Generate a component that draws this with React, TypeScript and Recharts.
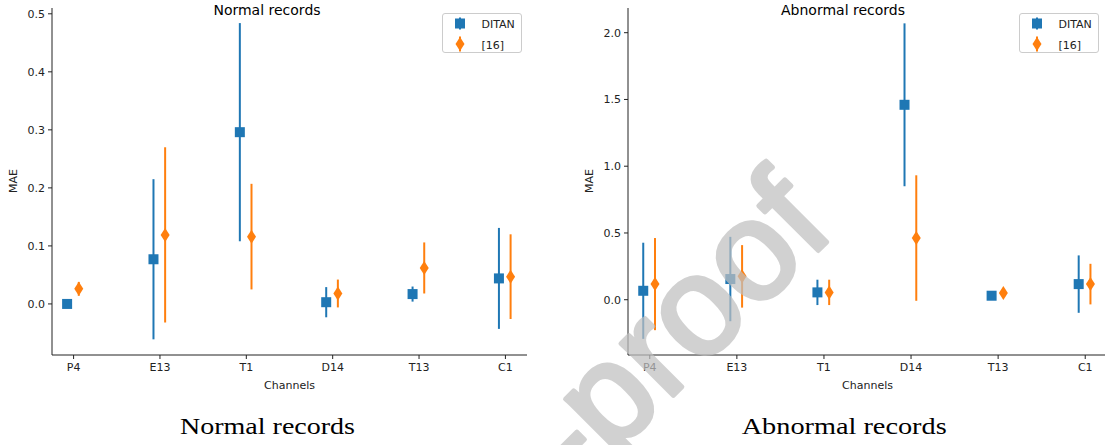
import React from 'react';
import { ScatterChart, Scatter, XAxis, YAxis, ErrorBar } from 'recharts';

const channels = ['P4', 'E13', 'T1', 'D14', 'T13', 'C1'];
const seriesNames = ['DITAN', '[16]'];
const seriesColors = ['#1f77b4', '#ff7f0e'];
const seriesOffsets = [-0.075, 0.06];

const normalDitanMean = [0.0, 0.077, 0.296, 0.003, 0.017, 0.044];
const normalDitanErr = [0.003, 0.138, 0.188, 0.026, 0.013, 0.087];
const normalRefMean = [0.026, 0.119, 0.116, 0.018, 0.062, 0.047];
const normalRefErr = [0.012, 0.151, 0.091, 0.024, 0.044, 0.073];

const abnormalDitanMean = [0.067, 0.155, 0.055, 1.46, 0.03, 0.117];
const abnormalDitanErr = [0.36, 0.316, 0.095, 0.61, 0.008, 0.215];
const abnormalRefMean = [0.117, 0.175, 0.055, 0.462, 0.05, 0.117];
const abnormalRefErr = [0.345, 0.234, 0.095, 0.47, 0.02, 0.152];

const normalTicks = [0.0, 0.1, 0.2, 0.3, 0.4, 0.5];
const abnormalTicks = [0.0, 0.5, 1.0, 1.5, 2.0];

const FONT = 'DejaVu Sans, sans-serif';
const AXIS = '#222';

const build = (mean: number[], err: number[], off: number) =>
  mean.map((m, i) => ({ x: i + off, y: m, err: err[i] }));

const Square = (props: any) => {
  const { cx, cy } = props;
  if (cx == null || cy == null) return null;
  return <rect x={cx - 5} y={cy - 5} width={10} height={10} fill={seriesColors[0]} />;
};
const Diamond = (props: any) => {
  const { cx, cy } = props;
  if (cx == null || cy == null) return null;
  return (
    <path
      d={`M${cx},${cy - 7}L${cx + 4.5},${cy}L${cx},${cy + 7}L${cx - 4.5},${cy}Z`}
      fill={seriesColors[1]}
    />
  );
};

type PanelProps = {
  left: number;
  width: number;
  marginRight: number;
  domain: [number, number];
  ticks: number[];
  ditan: { x: number; y: number; err: number }[];
  ref16: { x: number; y: number; err: number }[];
};

const Panel = ({ left, width, marginRight, domain, ticks, ditan, ref16 }: PanelProps) => (
  <div style={{ position: 'absolute', left, top: 0 }}>
    <ScatterChart
      width={width}
      height={400}
      margin={{ top: 8, right: marginRight, left: 8, bottom: 15 }}
    >
      <XAxis
        type="number"
        dataKey="x"
        domain={[-0.25, 5.25]}
        allowDataOverflow
        ticks={[0, 1, 2, 3, 4, 5]}
        tickFormatter={(v: number) => channels[Math.round(v)]}
        height={30}
        tickSize={4}
        tickMargin={4}
        stroke={AXIS}
        tick={{ fill: AXIS, fontSize: 11, fontFamily: FONT }}
      />
      <YAxis
        type="number"
        dataKey="y"
        domain={domain}
        allowDataOverflow
        ticks={ticks}
        tickFormatter={(v: number) => v.toFixed(1)}
        width={44}
        tickSize={4}
        tickMargin={3}
        stroke={AXIS}
        tick={{ fill: AXIS, fontSize: 11, fontFamily: FONT }}
      />
      <Scatter name={seriesNames[0]} data={ditan} shape={Square} isAnimationActive={false}>
        <ErrorBar dataKey="err" direction="y" width={0} strokeWidth={2} stroke={seriesColors[0]} isAnimationActive={false} />
      </Scatter>
      <Scatter name={seriesNames[1]} data={ref16} shape={Diamond} isAnimationActive={false}>
        <ErrorBar dataKey="err" direction="y" width={0} strokeWidth={2} stroke={seriesColors[1]} isAnimationActive={false} />
      </Scatter>
    </ScatterChart>
  </div>
);

const LegendBox = ({ x, y }: { x: number; y: number }) => (
  <g>
    <rect x={x} y={y} width={79} height={39} rx={2.5} fill="#fff" fillOpacity={0.8} stroke="#cccccc" />
    <line x1={x + 17.5} x2={x + 17.5} y1={y + 4} y2={y + 16} stroke={seriesColors[0]} strokeWidth={2} />
    <rect x={x + 12.5} y={y + 5} width={10} height={10} fill={seriesColors[0]} />
    <text x={x + 39} y={y + 14} fontSize={11} fontFamily={FONT} fill={AXIS}>{seriesNames[0]}</text>
    <line x1={x + 17.5} x2={x + 17.5} y1={y + 23} y2={y + 38} stroke={seriesColors[1]} strokeWidth={2} />
    <path
      d={`M${x + 17.5},${y + 23.5}L${x + 22},${y + 30.5}L${x + 17.5},${y + 37.5}L${x + 13},${y + 30.5}Z`}
      fill={seriesColors[1]}
    />
    <text x={x + 39} y={y + 35} fontSize={11} fontFamily={FONT} fill={AXIS}>{seriesNames[1]}</text>
  </g>
);

export default function App() {
  return (
    <div
      style={{
        position: 'absolute',
        left: 0,
        top: 0,
        width: 1105,
        height: 445,
        overflow: 'hidden',
        background: '#fff',
      }}
    >
      <Panel
        left={0}
        width={540}
        marginRight={13}
        domain={[-0.088, 0.51]}
        ticks={normalTicks}
        ditan={build(normalDitanMean, normalDitanErr, seriesOffsets[0])}
        ref16={build(normalRefMean, normalRefErr, seriesOffsets[1])}
      />
      <Panel
        left={576}
        width={531}
        marginRight={0}
        domain={[-0.414, 2.185]}
        ticks={abnormalTicks}
        ditan={build(abnormalDitanMean, abnormalDitanErr, seriesOffsets[0])}
        ref16={build(abnormalRefMean, abnormalRefErr, seriesOffsets[1])}
      />
      <svg
        width={1105}
        height={445}
        style={{ position: 'absolute', left: 0, top: 0, pointerEvents: 'none' }}
      >
        <text x={267} y={15} textAnchor="middle" fontSize={14} fontFamily={FONT} fill="#000">Normal records</text>
        <text x={843} y={15} textAnchor="middle" fontSize={14} fontFamily={FONT} fill="#000">Abnormal records</text>
        <text transform="translate(16.5,181) rotate(-90)" textAnchor="middle" fontSize={11} fontFamily={FONT} fill={AXIS}>MAE</text>
        <text transform="translate(593,181) rotate(-90)" textAnchor="middle" fontSize={11} fontFamily={FONT} fill={AXIS}>MAE</text>
        <text x={289.5} y={389} textAnchor="middle" fontSize={11} fontFamily={FONT} fill={AXIS}>Channels</text>
        <text x={867.5} y={389} textAnchor="middle" fontSize={11} fontFamily={FONT} fill={AXIS}>Channels</text>
        <LegendBox x={442.5} y={13.5} />
        <LegendBox x={1019.5} y={13.5} />
        <text x={180} y={434.3} textLength={175} lengthAdjust="spacingAndGlyphs" fontSize={24} fontFamily="Liberation Serif, serif" fill="#000">Normal records</text>
        <text x={741.7} y={434.3} textLength={205} lengthAdjust="spacingAndGlyphs" fontSize={24} fontFamily="Liberation Serif, serif" fill="#000">Abnormal records</text>
        <g opacity={0.72}>
          <text
            transform="translate(837,232) rotate(-45)"
            textAnchor="end"
            fontSize={140}
            fontFamily="Liberation Sans, sans-serif"
            fill="#c0c0c0"
            stroke="#c0c0c0"
            strokeWidth={4.5}
            strokeLinejoin="round"
          >
            Journal Pre-proof
          </text>
        </g>
      </svg>
    </div>
  );
}
